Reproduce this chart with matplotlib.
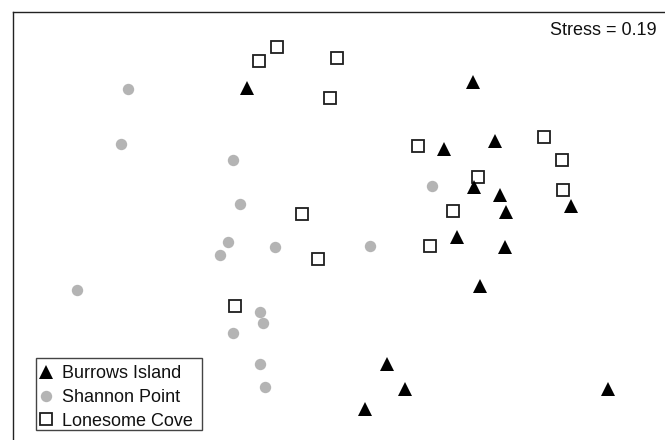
import matplotlib
matplotlib.use("Agg")
import matplotlib.pyplot as plt
from matplotlib.lines import Line2D
from matplotlib.patches import Rectangle

plt.rcParams['font.family'] = ['Liberation Sans', 'DejaVu Sans']

# NMDS ordination scores (axis 1, axis 2) for each site
burrows_x = [-0.465, 0.665, 0.520, 0.775, 0.670, 0.800, 0.830, 1.155, 0.585, 0.825, 0.700, 0.235, 0.325, 0.125, 1.340]
burrows_y = [0.710, 0.740, 0.405, 0.445, 0.215, 0.175, 0.090, 0.120, -0.035, -0.085, -0.280, -0.670, -0.795, -0.895, -0.795]

shannon_x = [-1.060, -1.095, -0.535, -0.500, -0.560, -0.600, -0.325, 0.150, -1.315, -0.400, -0.385, -0.535, -0.400, -0.375, 0.460]
shannon_y = [0.705, 0.430, 0.350, 0.130, -0.060, -0.125, -0.085, -0.080, -0.300, -0.410, -0.465, -0.515, -0.670, -0.785, 0.220]

lonesome_x = [-0.405, -0.315, -0.015, -0.050, -0.190, -0.110, -0.525, 0.390, 1.020, 1.110, 0.690, 1.115, 0.565, 0.450]
lonesome_y = [0.845, 0.915, 0.860, 0.660, 0.080, -0.145, -0.380, 0.420, 0.465, 0.350, 0.265, 0.200, 0.095, -0.080]

labels = ["Burrows Island", "Shannon Point", "Lonesome Cove"]
stress = 0.19

W, H = 665, 440
fig = plt.figure(figsize=(W / 100, H / 100), dpi=100)
# plot panel runs off the right and bottom edges of the canvas
left_px, top_px, right_px, bottom_px = 13, 12, 700, 484
ax = fig.add_axes([left_px / W, 1 - bottom_px / H,
                   (right_px - left_px) / W, (bottom_px - top_px) / H])
ax.set_xlim(-1.635, 1.80)
ax.set_ylim(-1.27, 1.09)
ax.set_xticks([])
ax.set_yticks([])
for s in ax.spines.values():
    s.set_color('#222222')
    s.set_linewidth(1.0)

circ_col = '#b4b4b4'
sq_edge = '#1e1e1e'

ax.plot(shannon_x, shannon_y, 'o', ms=8.2, color=circ_col, mec=circ_col, mew=0, zorder=2)
ax.plot(lonesome_x, lonesome_y, 's', ms=8.6, mfc='white', mec=sq_edge, mew=1.3, zorder=3)
ax.plot(burrows_x, burrows_y, '^', ms=10, color='black', mew=0, zorder=4)

fig.text(657 / W, 1 - 35 / H, f"Stress = {stress:.2f}", ha='right', va='baseline',
         fontsize=13, color='#111111')

# legend box drawn as a plain rectangle, entries placed inside it
bx0, by0, bx1, by1 = 36, 357.5, 202, 430
fig.patches.append(Rectangle((bx0 / W, 1 - by1 / H), (bx1 - bx0) / W, (by1 - by0) / H,
                             transform=fig.transFigure, facecolor='white',
                             edgecolor='#444444', linewidth=1.0, zorder=5))

handles = [
    Line2D([], [], ls='none', marker='^', ms=10, color='black', mew=0),
    Line2D([], [], ls='none', marker='o', ms=8.2, color=circ_col, mew=0),
    Line2D([], [], ls='none', marker='s', ms=8.6, mfc='white', mec=sq_edge, mew=1.3),
]
leg = fig.legend(handles, labels, loc='upper left',
                 bbox_to_anchor=(35.5 / W, 1 - 358 / H), borderaxespad=0,
                 fontsize=13, frameon=False, borderpad=0.4, handlelength=0.4,
                 handletextpad=0.69, labelspacing=0.37)
leg.set_zorder(6)
for t in leg.get_texts():
    t.set_color('#111111')

fig.savefig("out.png", dpi=100)
